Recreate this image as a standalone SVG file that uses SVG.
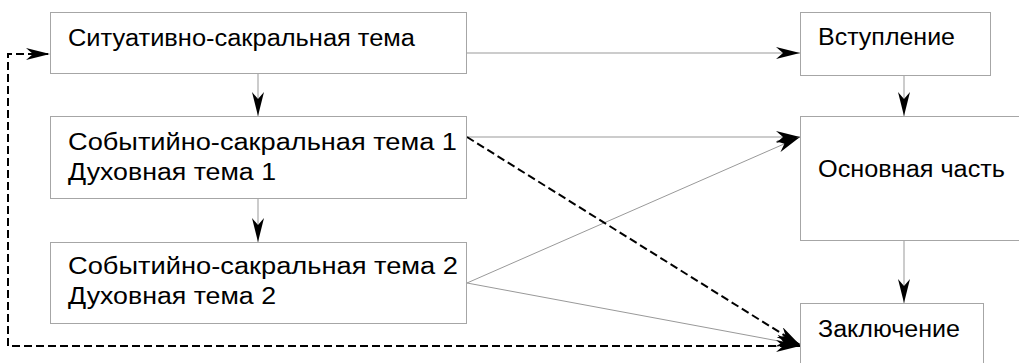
<svg xmlns="http://www.w3.org/2000/svg" width="1019" height="363" viewBox="0 0 1019 363">
<style>
.box{fill:#fff;stroke:#a6a6a6;stroke-width:1}
.t{font-family:"Liberation Sans",Arial,sans-serif;font-size:23px;fill:#000}
.thin{fill:none;stroke:#999;stroke-width:1}
.dash{fill:none;stroke:#000;stroke-width:2;stroke-dasharray:8 4}
</style>
<defs>
<marker id="ah" markerUnits="userSpaceOnUse" viewBox="0 0 24 12" refX="24" refY="6" markerWidth="24" markerHeight="12" orient="auto">
<path d="M0,0 L24,6 L0,12 L7,6 z" fill="#000"/>
</marker>
<marker id="ahs" markerUnits="userSpaceOnUse" viewBox="0 0 24 12" refX="0" refY="6" markerWidth="24" markerHeight="12" orient="auto">
<path d="M24,0 L0,6 L24,12 L17,6 z" fill="#000"/>
</marker>
</defs>
<g id="connectors">
<path class="thin" d="M467,53 L800,53" marker-end="url(#ah)"/>
<path class="thin" d="M258,73 L258,116" marker-end="url(#ah)"/>
<path class="thin" d="M258,199 L258,242" marker-end="url(#ah)"/>
<path class="thin" d="M467,137 L800,137" marker-end="url(#ah)"/>
<path class="thin" d="M467,283 L800,137" marker-end="url(#ah)"/>
<path class="thin" d="M467,283 L800,345" marker-end="url(#ah)"/>
<path class="dash" d="M467,137 L800,345" marker-end="url(#ah)"/>
<path class="dash" d="M800,346 L8,346 L8,54 L50,54" marker-start="url(#ahs)" marker-end="url(#ah)"/>
<path class="thin" d="M904,76 L904,116" marker-end="url(#ah)"/>
<path class="thin" d="M904,241 L904,303" marker-end="url(#ah)"/>
</g>
<g id="n1">
<rect class="box" x="50.5" y="12.5" width="416" height="61"/>
<text class="t" x="68" y="46" textLength="347" lengthAdjust="spacingAndGlyphs">Ситуативно-сакральная тема</text>
</g>
<g id="n2">
<rect class="box" x="50.5" y="116.5" width="416" height="82"/>
<text class="t" x="68" y="150" textLength="389" lengthAdjust="spacingAndGlyphs">Событийно-сакральная тема 1</text>
<text class="t" x="68" y="180" textLength="208" lengthAdjust="spacingAndGlyphs">Духовная тема 1</text>
</g>
<g id="n3">
<rect class="box" x="50.5" y="242.5" width="416" height="81"/>
<text class="t" x="68" y="274" textLength="390" lengthAdjust="spacingAndGlyphs">Событийно-сакральная тема 2</text>
<text class="t" x="68" y="304" textLength="208" lengthAdjust="spacingAndGlyphs">Духовная тема 2</text>
</g>
<g id="n4">
<rect class="box" x="800.5" y="12.5" width="190" height="63"/>
<text class="t" x="818" y="45" textLength="137" lengthAdjust="spacingAndGlyphs">Вступление</text>
</g>
<g id="n5">
<rect class="box" x="800.5" y="116.5" width="230" height="124"/>
<text class="t" x="818" y="177" textLength="187" lengthAdjust="spacingAndGlyphs">Основная часть</text>
</g>
<g id="n6">
<rect class="box" x="800.5" y="303.5" width="183" height="70"/>
<text class="t" x="818" y="337" textLength="142" lengthAdjust="spacingAndGlyphs">Заключение</text>
</g>
</svg>
